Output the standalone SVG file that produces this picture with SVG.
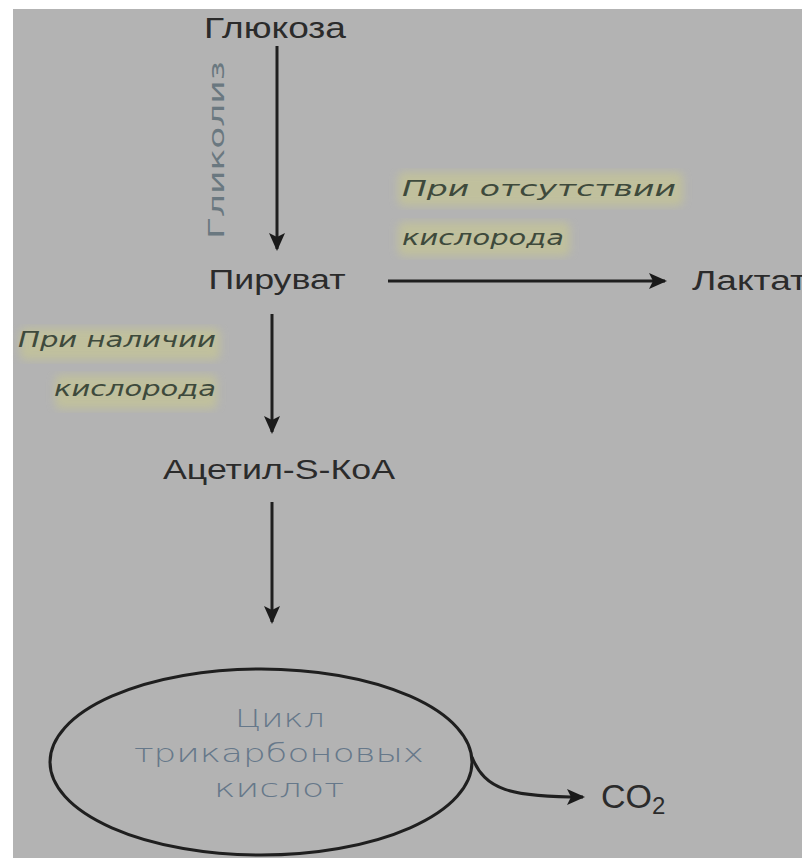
<svg xmlns="http://www.w3.org/2000/svg" width="802" height="858" viewBox="0 0 802 858">
<defs>
<marker id="ah2" markerWidth="18" markerHeight="18" refX="16" refY="9" orient="auto" markerUnits="userSpaceOnUse" viewBox="0 0 18 18">
<path d="M0,1 L18,9 L0,17 L4,9 Z" fill="#1a1a1a"/>
</marker>
<filter id="blur"><feGaussianBlur stdDeviation="4"/></filter>
</defs>
<style>
.lbl{font-family:"Liberation Sans","DejaVu Sans",sans-serif;fill:#2b2b2b;}
.note{font-family:"DejaVu Sans","Liberation Sans",sans-serif;font-style:italic;fill:#3e4a3c;font-size:22px;}
.cyc{font-family:"DejaVu Sans","Liberation Sans",sans-serif;fill:#66788a;font-size:24px;font-weight:300;}
.hl{fill:#c9c98f;opacity:0.6;filter:url(#blur);}
.ln{stroke:#1f1f1f;stroke-width:3;fill:none;}
</style>
<rect x="0" y="0" width="802" height="858" fill="#ffffff"/>
<rect x="13" y="9" width="789" height="849" fill="#b3b3b3"/>

<g id="highlights">
<rect class="hl" x="398" y="172" width="285" height="34" rx="6"/>
<rect class="hl" x="398" y="222" width="172" height="34" rx="6"/>
<rect class="hl" x="20" y="328" width="200" height="32" rx="6"/>
<rect class="hl" x="55" y="375" width="162" height="34" rx="6"/>
</g>

<g id="connectors">
<line class="ln" x1="277" y1="46" x2="277" y2="249" marker-end="url(#ah2)"/>
<line class="ln" x1="388" y1="281" x2="665" y2="281" marker-end="url(#ah2)"/>
<line class="ln" x1="272" y1="314" x2="272" y2="432" marker-end="url(#ah2)"/>
<line class="ln" x1="272" y1="502" x2="272" y2="622" marker-end="url(#ah2)"/>
<path class="ln" d="M472,757 C485,790 510,797 583,797" marker-end="url(#ah2)"/>
</g>

<g id="glucose">
<text class="lbl" x="275" y="38" font-size="29" text-anchor="middle" textLength="142" lengthAdjust="spacingAndGlyphs">Глюкоза</text>
</g>
<g id="glycolysis-label">
<text x="0" y="0" transform="translate(224,150) rotate(-90)" font-family="DejaVu Sans,Liberation Sans,sans-serif" font-size="22" fill="#6a7880" text-anchor="middle" textLength="178" lengthAdjust="spacingAndGlyphs">Гликолиз</text>
</g>
<g id="pyruvate">
<text class="lbl" x="277" y="289" font-size="27" text-anchor="middle" textLength="137" lengthAdjust="spacingAndGlyphs">Пируват</text>
</g>
<g id="lactate">
<text class="lbl" x="692" y="290" font-size="27" textLength="115" lengthAdjust="spacingAndGlyphs">Лактат</text>
</g>
<g id="no-oxygen-label">
<text class="note" x="402" y="196" textLength="274" lengthAdjust="spacingAndGlyphs">При отсутствии</text>
<text class="note" x="402" y="245" textLength="162" lengthAdjust="spacingAndGlyphs">кислорода</text>
</g>
<g id="oxygen-label">
<text class="note" x="216" y="347" text-anchor="end" textLength="198" lengthAdjust="spacingAndGlyphs">При наличии</text>
<text class="note" x="216" y="396" text-anchor="end" textLength="162" lengthAdjust="spacingAndGlyphs">кислорода</text>
</g>
<g id="acetyl-coa">
<text class="lbl" x="279" y="479" font-size="27" text-anchor="middle" textLength="232" lengthAdjust="spacingAndGlyphs">Ацетил-S-КоА</text>
</g>
<g id="tca-cycle">
<ellipse cx="261" cy="762" rx="211" ry="93" fill="none" stroke="#1f1f1f" stroke-width="3"/>
<text class="cyc" x="280" y="727" text-anchor="middle" textLength="90" lengthAdjust="spacingAndGlyphs">Цикл</text>
<text class="cyc" x="279" y="762" text-anchor="middle" textLength="290" lengthAdjust="spacingAndGlyphs">трикарбоновых</text>
<text class="cyc" x="279" y="797" text-anchor="middle" textLength="130" lengthAdjust="spacingAndGlyphs">кислот</text>
</g>
<g id="co2">
<text class="lbl" x="601" y="808" font-size="34px" style="font-size:34px">CO<tspan style="font-size:24px" dy="6">2</tspan></text>
</g>
</svg>
